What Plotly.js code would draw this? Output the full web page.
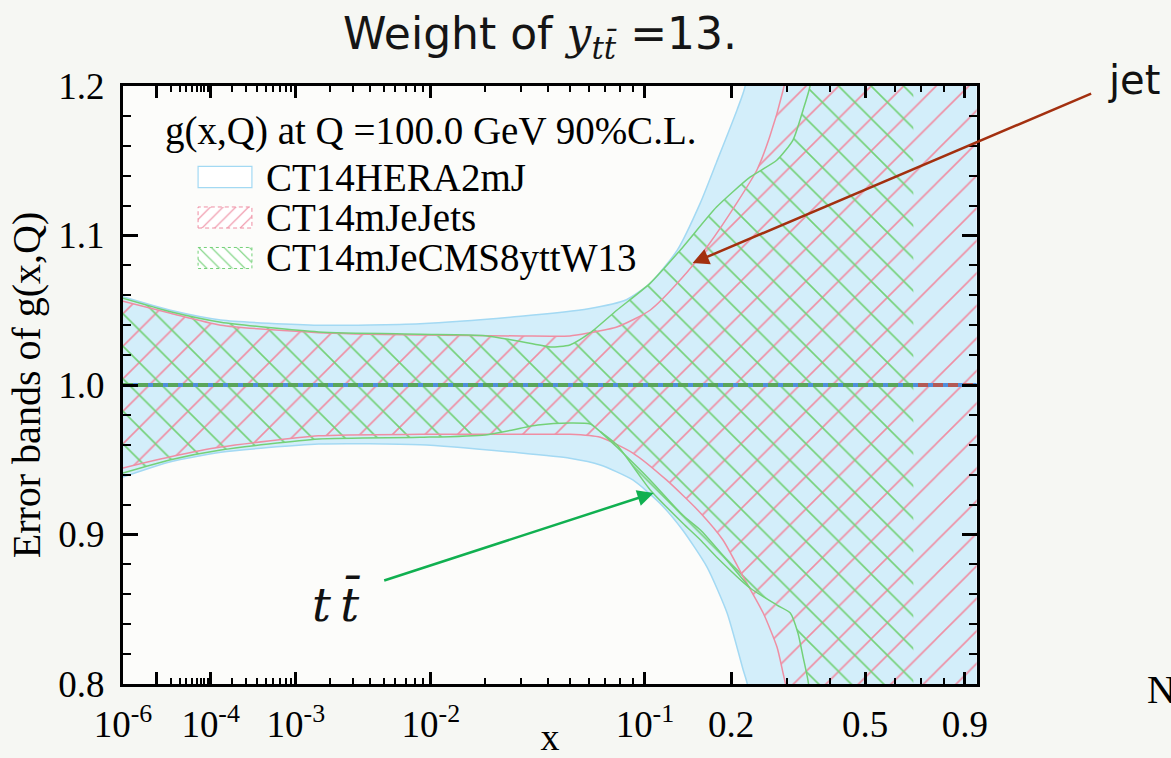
<!DOCTYPE html>
<html>
<head>
<meta charset="utf-8">
<script src="https://cdn.plot.ly/plotly-3.0.1.min.js"></script>
<style>
  html, body { margin: 0; padding: 0; background: #f6f7f3; }
  #chart { width: 1171px; height: 758px; }
</style>
</head>
<body>
<div id="chart"></div>
<script>
// The x axis is drawn on a fifth-root scale: u = x^(1/5)
const POW = 0.2;
const u = x => Math.pow(x, POW);

// ---- CT14HERA2mJ (solid blue band) ----
const heraUpperX = [1e-6, 2e-5, 1.4e-4, 1.6e-3, 8.6e-3, 0.03, 0.06, 0.085, 0.1045, 0.131, 0.158, 0.179, 0.209, 0.222, 0.3, 0.5, 0.96];
const heraUpperY = [1.059, 1.050, 1.0435, 1.040, 1.041, 1.046, 1.051, 1.057, 1.068, 1.090, 1.122, 1.149, 1.184, 1.200, 1.42, 1.90, 3.0];
const heraLowerX = [1e-6, 2e-5, 1.4e-4, 1.6e-3, 8.6e-3, 0.03, 0.05, 0.067, 0.09, 0.1135, 0.137, 0.1665, 0.194, 0.219, 0.2254, 0.3, 0.5, 0.96];
const heraLowerY = [0.9385, 0.9487, 0.955, 0.9605, 0.960, 0.9545, 0.951, 0.9465, 0.9365, 0.921, 0.903, 0.878, 0.8475, 0.809, 0.800, 0.58, 0.1, -1.0];

// ---- CT14mJeJets (pink hatched band) ----
const jetsUpperX = [1e-6, 2e-5, 1.4e-4, 1.6e-3, 8.6e-3, 0.03, 0.05, 0.06, 0.078, 0.1045, 0.137, 0.17, 0.209, 0.242, 0.265, 0.291, 0.33, 0.5, 0.96];
const jetsUpperY = [1.056, 1.048, 1.040, 1.035, 1.0334, 1.0328, 1.0328, 1.0348, 1.0388, 1.050, 1.072, 1.095, 1.122, 1.144, 1.166, 1.197, 1.26, 1.6, 2.5];
const jetsLowerX = [1e-6, 2e-5, 1.4e-4, 1.6e-3, 8.6e-3, 0.03, 0.05, 0.067, 0.09, 0.12, 0.158, 0.188, 0.219, 0.253, 0.279, 0.291, 0.33, 0.5, 0.96];
const jetsLowerY = [0.9445, 0.952, 0.9585, 0.966, 0.967, 0.967, 0.967, 0.965, 0.9545, 0.9365, 0.9144, 0.8963, 0.8716, 0.8475, 0.8247, 0.8074, 0.75, 0.4, -0.5];

// ---- CT14mJeCMS8yttW13 (green hatched band) ----
const ttUpperX = [1e-6, 2e-5, 1.4e-4, 1.6e-3, 8.6e-3, 0.02, 0.036, 0.041, 0.05, 0.061, 0.078, 0.1045, 0.137, 0.179, 0.23, 0.279, 0.312, 0.334, 0.35, 0.4, 0.67];
const ttUpperY = [1.058, 1.049, 1.042, 1.0355, 1.034, 1.033, 1.027, 1.0254, 1.0268, 1.035, 1.050, 1.068, 1.092, 1.119, 1.139, 1.1505, 1.164, 1.184, 1.20, 1.30, 1.6];
const ttLowerX = [1e-6, 2e-5, 1.4e-4, 1.6e-3, 8.6e-3, 0.02, 0.036, 0.05, 0.061, 0.067, 0.078, 0.1045, 0.137, 0.158, 0.179, 0.23, 0.279, 0.306, 0.3225, 0.334, 0.345, 0.4, 0.67];
const ttLowerY = [0.9411, 0.950, 0.9565, 0.9639, 0.965, 0.9666, 0.9732, 0.9746, 0.9739, 0.9688, 0.960, 0.930, 0.9077, 0.8963, 0.885, 0.8642, 0.8528, 0.8475, 0.8341, 0.818, 0.8027, 0.70, 0.4];
// second lower member of the same set, running just inside the band edge
const ttLowerAltX = [0.067, 0.078, 0.1045, 0.137, 0.158, 0.179, 0.23];
const ttLowerAltY = [0.9688, 0.9585, 0.9365, 0.913, 0.903, 0.891, 0.8642];

// Central fits (ratio to itself = 1)
const heraCentralX = [1e-6, 0.96];
const heraCentralY = [1.0, 1.0];
const jetsCentralX = [1e-6, 0.96];
const jetsCentralY = [1.0, 1.0];
const ttCentralX = [1e-6, 0.67];
const ttCentralY = [1.0, 1.0];

// Axis ticks
const xMajorVals = [1e-6, 1e-5, 1e-4, 1e-3, 1e-2, 0.1, 0.2, 0.5, 0.9];
const xMajorText = ['10<sup>-6</sup>', '', '10<sup>-4</sup>', '10<sup>-3</sup>', '10<sup>-2</sup>', '10<sup>-1</sup>', '0.2', '0.5', '0.9'];
const xMinorVals = [];
[1e-5, 1e-4, 1e-3, 1e-2].forEach(d => { for (let k = 2; k <= 9; k++) xMinorVals.push(k * d); });
[0.3, 0.4, 0.6, 0.7, 0.8].forEach(v => xMinorVals.push(v));
const xMax = 0.962;

const legendNames = ['CT14HERA2mJ', 'CT14mJeJets', 'CT14mJeCMS8yttW13'];
const legendTitle = 'g(x,Q) at Q =100.0 GeV 90%C.L.';

// Colours
const C = {
  heraFill: '#d3eefa', heraEdge: '#a3d9f3',
  jets: '#ef8ea3', tt: '#74d178',
  midBlue: '#4f8fdc', midGreen: '#5aa65a', midRed: '#b35a55',
  jetArrow: '#a3300f', ttArrow: '#10b050'
};

// Page geometry (plot frame in pixels)
const W = 1171, H = 758;
const L = 123, R = 977, T = 86, B = 684;
const px = p => (p - L) / (R - L);
const py = p => (B - p) / (B - T);

const mapU = arr => arr.map(u);
const SERIF = 'Liberation Serif, Times New Roman, serif';
const SANS = 'DejaVu Sans, sans-serif';

const traces = [];
function band(lx, ly, ux, uy, fillSpec) {
  traces.push({ x: mapU(lx), y: ly, type: 'scatter', mode: 'lines', line: { width: 0, shape: 'spline', smoothing: 0.6 }, hoverinfo: 'skip', showlegend: false });
  const t = { x: mapU(ux), y: uy, type: 'scatter', mode: 'lines', fill: 'tonexty', line: { width: 0, shape: 'spline', smoothing: 0.6 }, hoverinfo: 'skip', showlegend: false };
  Object.assign(t, fillSpec);
  traces.push(t);
}
function edge(xs, ys, color, w) {
  traces.push({ x: mapU(xs), y: ys, type: 'scatter', mode: 'lines', line: { color: color, width: w, shape: 'spline', smoothing: 0.6 }, hoverinfo: 'skip', showlegend: false });
}

band(heraLowerX, heraLowerY, heraUpperX, heraUpperY, { fillcolor: C.heraFill });
edge(heraUpperX, heraUpperY, C.heraEdge, 1.5);
edge(heraLowerX, heraLowerY, C.heraEdge, 1.5);

band(jetsLowerX, jetsLowerY, jetsUpperX, jetsUpperY, {
  fillcolor: 'rgba(0,0,0,0)',
  fillpattern: { shape: '/', fgcolor: C.jets, bgcolor: 'rgba(0,0,0,0)', fillmode: 'replace', size: 23, solidity: 0.07 }
});
band(ttLowerX, ttLowerY, ttUpperX, ttUpperY, {
  fillcolor: 'rgba(0,0,0,0)',
  fillpattern: { shape: '\\', fgcolor: C.tt, bgcolor: 'rgba(0,0,0,0)', fillmode: 'replace', size: 23, solidity: 0.07 }
});
edge(jetsUpperX, jetsUpperY, C.jets, 1.5);
edge(jetsLowerX, jetsLowerY, C.jets, 1.5);
edge(ttUpperX, ttUpperY, C.tt, 1.5);
edge(ttLowerX, ttLowerY, C.tt, 1.5);
edge(ttLowerAltX, ttLowerAltY, C.tt, 1.5);

// central lines
traces.push({ x: mapU(heraCentralX), y: heraCentralY, type: 'scatter', mode: 'lines', line: { color: C.midBlue, width: 4 }, hoverinfo: 'skip', showlegend: false });
traces.push({ x: mapU(jetsCentralX), y: jetsCentralY, type: 'scatter', mode: 'lines', line: { color: C.midRed, width: 4, dash: '10px,5px' }, hoverinfo: 'skip', showlegend: false });
traces.push({ x: mapU(ttCentralX), y: ttCentralY, type: 'scatter', mode: 'lines', line: { color: C.midGreen, width: 4, dash: '10px,5px' }, hoverinfo: 'skip', showlegend: false });

// Legend swatches on a small hidden overlay axis: hatched ones as patterned fills
const rowPx = [177, 218, 258];
const swH = 0.26;
const hatchSwatches = {
  1: { fillpattern: { shape: '/', fgcolor: C.jets, bgcolor: '#ffffff', fillmode: 'replace', size: 9, solidity: 0.13 }, line: { color: C.jets, width: 1, dash: '4px,3px' } },
  2: { fillpattern: { shape: '\\', fgcolor: C.tt, bgcolor: '#ffffff', fillmode: 'replace', size: 9, solidity: 0.13 }, line: { color: C.tt, width: 1, dash: '3px,3px' } }
};
Object.keys(hatchSwatches).forEach(k => {
  const c = 2.5 - Number(k);
  const t = {
    x: [0, 1, 1, 0, 0], y: [c - swH, c - swH, c + swH, c + swH, c - swH],
    xaxis: 'x2', yaxis: 'y2', type: 'scatter', mode: 'lines', fill: 'toself',
    fillcolor: 'rgba(0,0,0,0)', hoverinfo: 'skip', showlegend: false
  };
  Object.assign(t, hatchSwatches[k]);
  traces.push(t);
});
// plain white swatch for the solid band
const shapes = [{
  type: 'rect', xref: 'x2', yref: 'y2', x0: 0, x1: 1, y0: 2.5 - swH, y1: 2.5 + swH,
  fillcolor: '#ffffff', line: { color: C.heraEdge, width: 1.2 }, layer: 'above'
}];

const annotations = [
  { text: legendTitle, xref: 'paper', yref: 'paper', x: px(163), y: py(131), xanchor: 'left', yanchor: 'middle', showarrow: false, font: { family: SERIF, size: 39, color: '#000' } },
  ...legendNames.map((name, i) => ({ text: name, xref: 'paper', yref: 'paper', x: px(264), y: py(rowPx[i]), xanchor: 'left', yanchor: 'middle', showarrow: false, font: { family: SERIF, size: 39, color: '#000' } })),
  // jet arrow
  { text: '', x: u(0.1485), y: 1.0816, xref: 'x', yref: 'y', ax: 400, ay: -170, axref: 'pixel', ayref: 'pixel', showarrow: true, arrowhead: 2, arrowsize: 1.3, arrowwidth: 2.5, arrowcolor: C.jetArrow },
  { text: 'jet', xref: 'paper', yref: 'paper', x: px(1134), y: py(80), xanchor: 'center', yanchor: 'middle', showarrow: false, font: { family: SANS, size: 40, color: '#111' } },
  // ttbar arrow
  { text: '', x: u(0.1078), y: 0.9278, xref: 'x', yref: 'y', ax: -271, ay: 88, axref: 'pixel', ayref: 'pixel', showarrow: true, arrowhead: 2, arrowsize: 1.3, arrowwidth: 2.5, arrowcolor: C.ttArrow },
  { text: '<i>t</i>\u2009<i>t̄</i>', xref: 'paper', yref: 'paper', x: px(336), y: py(603), xanchor: 'center', yanchor: 'middle', showarrow: false, font: { family: 'DejaVu Serif, serif', size: 47, color: '#111' } },
  { text: 'N', xref: 'paper', yref: 'paper', x: px(1145), y: py(689), xanchor: 'left', yanchor: 'middle', showarrow: false, font: { family: SERIF, size: 40, color: '#000' } }
];

const axisCommon = {
  showline: true, linecolor: '#000', linewidth: 3, mirror: 'ticks',
  ticks: 'inside', tickcolor: '#000', showgrid: false, zeroline: false,
  tickfont: { family: SERIF, size: 37, color: '#000' }
};

const layout = {
  width: W, height: H, autosize: false,
  paper_bgcolor: '#f6f7f3', plot_bgcolor: '#fcfcfa',
  margin: { l: L, r: W - R, t: T, b: H - B, pad: 0 },
  showlegend: false,
  title: {
    text: 'Weight of <span style="font-family:DejaVu Serif"><i>y</i><sub><i>tt̄</i></sub></span> =13.',
    xref: 'container', yref: 'container', x: 540 / W, y: 1 - 34 / H, xanchor: 'center', yanchor: 'middle',
    font: { family: SANS, size: 44, color: '#151515' }
  },
  xaxis: Object.assign({}, axisCommon, {
    range: [u(1e-6), u(xMax)], tickmode: 'array', tickvals: xMajorVals.map(u), ticktext: xMajorText,
    ticklen: 12, tickwidth: 3, ticklabelstandoff: 6,
    minor: { tickmode: 'array', tickvals: xMinorVals.map(u), ticks: 'inside', ticklen: 6, tickwidth: 2, tickcolor: '#000' },
    title: { text: 'x', font: { family: SERIF, size: 38, color: '#000' }, standoff: 0 }
  }),
  yaxis: Object.assign({}, axisCommon, {
    range: [0.8, 1.2], tickmode: 'linear', tick0: 0.8, dtick: 0.1, tickformat: '.1f',
    ticklen: 15, tickwidth: 3, ticklabelstandoff: 8,
    minor: { dtick: 0.02, ticks: 'inside', ticklen: 8, tickwidth: 2, tickcolor: '#000' },
    title: { text: 'Error bands of g(x,Q)', font: { family: SERIF, size: 40, color: '#000' }, standoff: 6 }
  }),
  xaxis2: { domain: [px(197), px(253)], range: [-0.02, 1.02], visible: false, anchor: 'y2', fixedrange: true },
  yaxis2: { domain: [py(278.25), py(156.75)], range: [0, 3], visible: false, anchor: 'x2', fixedrange: true },
  shapes: shapes,
  annotations: annotations
};

Plotly.newPlot('chart', traces, layout, { displayModeBar: false, staticPlot: true });
</script>
</body>
</html>
